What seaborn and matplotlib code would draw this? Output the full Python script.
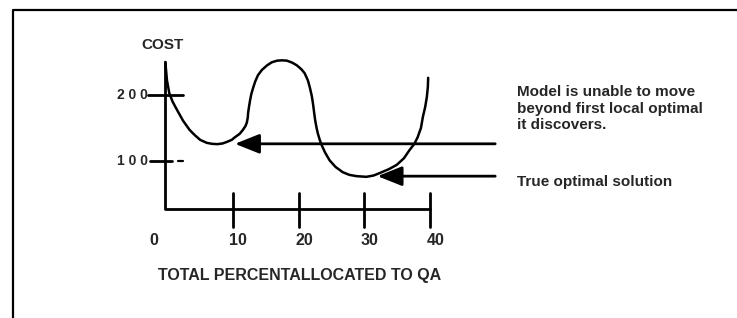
import matplotlib
matplotlib.use("Agg")
import matplotlib.pyplot as plt
import seaborn as sns
import pandas as pd

# cost curve (x = percent allocated to QA)
curve_x = [-0.3, -0.05, 0.3, 0.8, 1.5, 2.4, 3.4, 4.2, 5.0, 6.0, 6.8, 7.6, 8.4,
           9.1, 9.8, 10.3, 11.0, 11.5, 11.9, 12.1, 12.25, 12.3, 12.45, 12.6,
           12.8, 13.1, 13.4, 13.8, 14.4, 15.2, 15.9, 16.7, 17.5, 18.2, 19.0,
           19.7, 20.4, 20.9, 21.4, 21.7, 22.0, 22.2, 22.35, 22.5, 22.7, 22.9,
           23.2, 23.5, 24.0, 24.7, 25.6, 26.7, 27.7, 28.8, 30.3, 31.4, 32.4,
           33.7, 34.9, 36.0, 36.9, 37.6, 38.1, 38.6, 38.9, 39.25, 39.5, 39.65,
           39.7]
curve_cost = [250, 222, 203, 190, 177, 161, 147, 139, 132, 127.5, 126, 125.5,
              126.5, 129, 132, 136, 141, 147, 153, 158, 166, 173, 183, 192,
              202, 212, 221, 230, 238, 245, 249.5, 252, 252.5, 252, 249,
              245, 239, 233, 222, 211, 198, 185, 173, 162, 151, 142,
              132, 124, 113, 101, 91, 83, 79, 77, 76, 78, 82,
              87.5, 94, 104, 117, 126, 136, 150, 167, 182, 197, 212,
              226]

x_ticks = [10, 20, 30, 40]
x_tick_labels = ["0", "10", "20", "30", "40"]
y_ticks = [100, 200]
y_tick_labels = ["1 0 0", "2 0 0"]

local_opt = (10.3, 126)
true_opt = (32.0, 77)
note_local = ["Model is unable to move", "beyond first local optimal", "it discovers."]
note_true = "True optimal solution"

x_axis_cost = 27.5
y_axis_top = 250

sns.set_theme(style="white")
plt.rcParams['font.family'] = ['Liberation Sans', 'DejaVu Sans']

fig = plt.figure(figsize=(7.37, 3.18), dpi=100)
ax = fig.add_axes([0, 0, 1, 1])
ax.set_xlim(-25.46, 86.7)
ax.set_ylim(-137.9, 343.9)
ax.axis("off")

# frame lines (top and left only)
ax.plot([0.018, 0.018, 1.0], [0.0, 0.968, 0.968], transform=ax.transAxes,
        color="black", lw=1.6, solid_joinstyle="round")

# axes of the sketch
ax.plot([-0.3, -0.3, 40], [y_axis_top, x_axis_cost, x_axis_cost], color="black", lw=2.0)
for t in x_ticks:
    ax.plot([t, t], [x_axis_cost + 24, x_axis_cost - 27], color="black", lw=2.0)
for lab, t in zip(x_tick_labels, [0] + x_ticks):
    ax.text(t + (-2.0 if t == 0 else 0.8), -20, lab, ha="center", va="center",
            fontsize=11.5, fontweight="bold")
ax.plot([-2.9, 2.4], [200, 200], color="black", lw=2.0)
ax.plot([-2.7, 0.7], [100, 100], color="black", lw=2.0)
ax.plot([1.6, 2.4], [100, 100], color="black", lw=1.6)
for lab, t in zip(y_tick_labels, y_ticks):
    ax.text(-3.0, t, lab, ha="right", va="center", fontsize=10, fontweight="bold")
ax.text(-0.8, 276, "COST", ha="center", va="center", fontsize=11, fontweight="bold")
ax.text(20.2, -74, "TOTAL PERCENTALLOCATED TO QA", ha="center", va="center",
        fontsize=11.5, fontweight="bold")

# cost curve
df = pd.DataFrame({"x": curve_x, "cost": curve_cost})
sns.lineplot(data=df, x="x", y="cost", sort=False, color="black", lw=1.8, ax=ax)
ax.set_xlabel("")
ax.set_ylabel("")

# arrows
for pt in [local_opt, true_opt]:
    ax.annotate("", xy=pt, xytext=(49.9, pt[1]),
                arrowprops=dict(arrowstyle="-|>,head_length=1.25,head_width=0.5",
                                color="black", lw=2.0, shrinkA=0, shrinkB=0))

for i, line in enumerate(note_local):
    ax.text(53.2, 204.5 - i * 25, line, ha="left", va="center", fontsize=11,
            fontweight="bold")
ax.text(53.2, 68, note_true, ha="left", va="center", fontsize=11, fontweight="bold")

fig.savefig("out.png", dpi=100)
